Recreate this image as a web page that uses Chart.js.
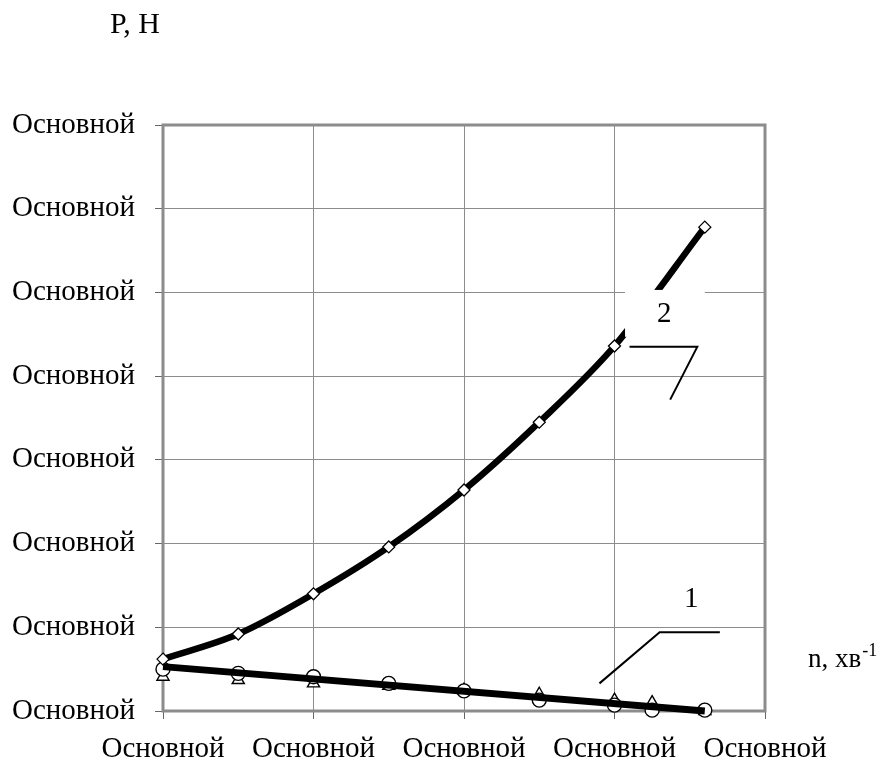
<!DOCTYPE html>
<html lang="uk">
  <head>
    <meta charset="UTF-8" />
    <title>P(n)</title>
    <script src="https://cdn.jsdelivr.net/npm/chart.js@4.4.0/dist/chart.umd.min.js"></script>
    <style>
      body { margin: 0; background: #fff; }
    </style>
  </head>

  <body>
    <canvas id="myChart" width="886" height="762"></canvas>

    <script>
      // curve 2 (diamonds)
      const n2 = [0, 0.5, 1, 1.5, 2, 2.5, 3, 3.6];
      const p2 = [0.62, 0.92, 1.4, 1.96, 2.64, 3.45, 4.36, 5.78];

      // curve 1 measurements (circles, triangles)
      const n1 = [0, 0.5, 1, 1.5, 2, 2.5, 3, 3.25, 3.6];
      const p1Circles = [0.5, 0.45, 0.41, 0.33, 0.24, 0.13, 0.07, 0.01, 0.01];
      const p1Triangles = [0.41, 0.37, 0.33, 0.3, 0.25, 0.2, 0.13, 0.1, 0.0];

      // curve 1 fitted line
      const n1Line = [0, 3.6];
      const p1Line = [0.53, 0.0];

      const xTickLabels = ["Основной", "Основной", "Основной", "Основной", "Основной"];
      const yTickLabels = ["Основной", "Основной", "Основной", "Основной",
                           "Основной", "Основной", "Основной", "Основной"];

      const toXY = (xs, ys) => xs.map((x, i) => ({ x: x, y: ys[i] }));
      const serif = "'Liberation Serif', 'Times New Roman', serif";

      // gray frame round the plot area
      const framePlugin = {
        id: "frame",
        beforeDatasetsDraw(chart) {
          const a = chart.chartArea;
          const ctx = chart.ctx;
          ctx.save();
          ctx.strokeStyle = "#8c8c8c";
          ctx.lineWidth = 3;
          ctx.strokeRect(a.left, a.top, a.right - a.left, a.bottom - a.top);
          ctx.restore();
        },
      };

      // curve numbers with leader lines, in data units
      const calloutPlugin = {
        id: "callouts",
        afterDatasetsDraw(chart) {
          const xs = chart.scales.x, ys = chart.scales.y;
          const px = (v) => xs.getPixelForValue(v);
          const py = (v) => ys.getPixelForValue(v);
          const ctx = chart.ctx;
          ctx.save();

          // white box under label "2"
          ctx.fillStyle = "#fff";
          ctx.fillRect(px(3.07), py(5.03), px(3.6) - px(3.07), py(4.47) - py(5.03));

          ctx.strokeStyle = "#000";
          ctx.lineWidth = 2;
          ctx.beginPath();
          ctx.moveTo(px(3.1), py(4.35));
          ctx.lineTo(px(3.55), py(4.35));
          ctx.lineTo(px(3.37), py(3.72));
          ctx.moveTo(px(2.9), py(0.33));
          ctx.lineTo(px(3.3), py(0.94));
          ctx.lineTo(px(3.7), py(0.94));
          ctx.stroke();

          ctx.fillStyle = "#000";
          ctx.font = "29px " + serif;
          ctx.textAlign = "center";
          ctx.textBaseline = "middle";
          ctx.fillText("2", px(3.33), py(4.74));
          ctx.fillText("1", px(3.51), py(1.33));
          ctx.restore();
        },
      };

      // axis names
      const axisNamesPlugin = {
        id: "axisNames",
        afterDraw(chart) {
          const ctx = chart.ctx;
          ctx.save();
          ctx.fillStyle = "#000";
          ctx.textBaseline = "alphabetic";
          ctx.textAlign = "left";
          ctx.font = "30px " + serif;
          ctx.fillText("P, H", 110, 33);
          ctx.font = "27px " + serif;
          ctx.fillText("n, хв", 808, 667);
          const w = ctx.measureText("n, хв").width;
          ctx.font = "18px " + serif;
          ctx.fillText("-1", 808 + w + 1, 656);
          ctx.restore();
        },
      };

      const data_chart = {
        datasets: [
          {
            label: "1",
            data: toXY(n1Line, p1Line),
            borderColor: "#000",
            borderWidth: 7,
            pointRadius: 0,
            showLine: true,
            clip: false,
          },
          {
            label: "2",
            data: toXY(n2, p2),
            borderColor: "#000",
            borderWidth: 6.5,
            cubicInterpolationMode: "monotone",
            showLine: true,
            pointStyle: "rectRot",
            pointRadius: 6,
            pointBackgroundColor: "#fff",
            pointBorderColor: "#000",
            pointBorderWidth: 1.3,
            clip: false,
          },
          {
            label: "circles",
            data: toXY(n1, p1Circles),
            showLine: false,
            pointStyle: "circle",
            pointRadius: 7,
            pointBackgroundColor: "#fff",
            pointBorderColor: "#000",
            pointBorderWidth: 1.4,
            clip: false,
          },
          {
            label: "triangles",
            data: toXY(n1, p1Triangles),
            showLine: false,
            pointStyle: "triangle",
            pointRadius: 7,
            pointBackgroundColor: "#fff",
            pointBorderColor: "#000",
            pointBorderWidth: 1.4,
            clip: false,
          },
        ],
      };

      const config = {
        type: "scatter",
        data: data_chart,
        options: {
          responsive: false,
          animation: false,
          layout: { padding: { left: 0, top: 125, right: 121, bottom: 0 } },
          plugins: { legend: { display: false }, tooltip: { enabled: false } },
          scales: {
            x: {
              type: "linear",
              min: 0,
              max: 4,
              afterFit: (scale) => { scale.height = 51; },
              border: { display: false },
              grid: { color: "#8c8c8c", lineWidth: 1, tickLength: 8, tickColor: "#666" },
              ticks: {
                stepSize: 1,
                padding: 13,
                color: "#000",
                font: { family: serif, size: 29 },
                maxRotation: 0,
                callback: (v, i) => xTickLabels[i],
              },
            },
            y: {
              type: "linear",
              min: 0,
              max: 7,
              afterFit: (scale) => { scale.width = 163; },
              border: { display: false },
              grid: { color: "#8c8c8c", lineWidth: 1, tickLength: 8, tickColor: "#666" },
              ticks: {
                stepSize: 1,
                padding: 20,
                color: "#000",
                font: { family: serif, size: 29 },
                callback: (v, i) => yTickLabels[i],
              },
            },
          },
        },
        plugins: [framePlugin, calloutPlugin, axisNamesPlugin],
      };

      const myChart = new Chart(document.getElementById("myChart"), config);
    </script>
  </body>
</html>
